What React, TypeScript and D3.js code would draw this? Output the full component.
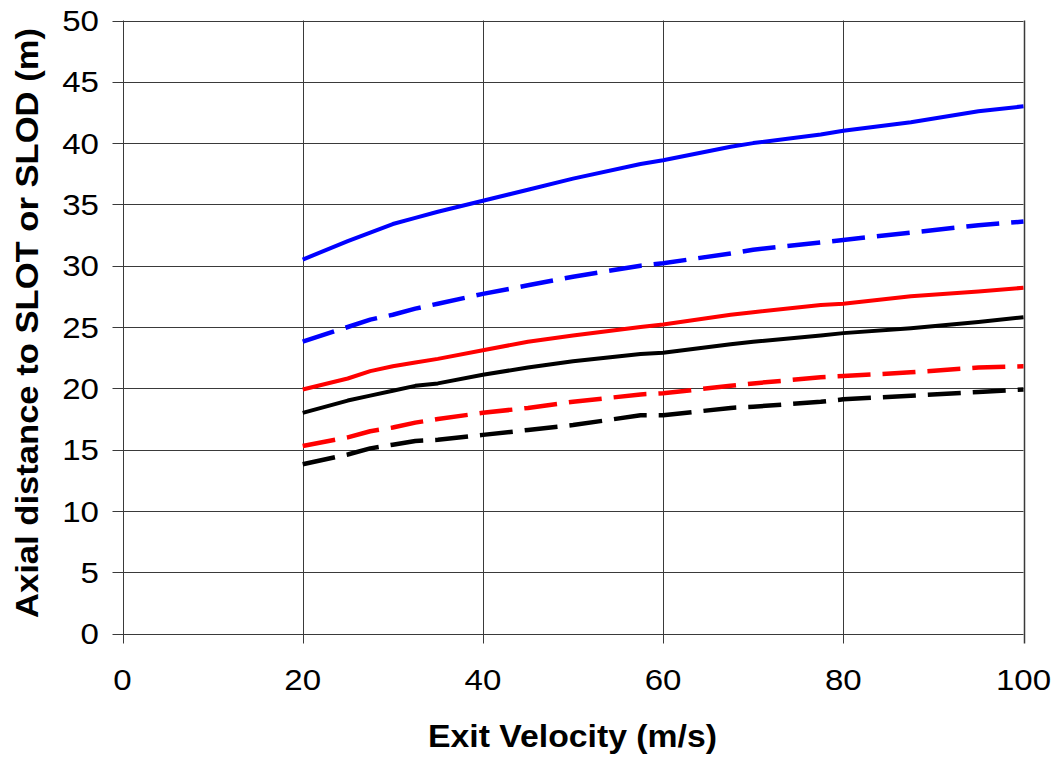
import React from "react";
import * as d3 from "d3";

const xs = [20, 25, 27.5, 30, 32.5, 35, 40, 45, 50, 57.5, 60, 67.5, 70, 77.5, 80, 87.5, 95, 100];
const blueSolid = [30.5, 32.0, 32.7, 33.4, 33.9, 34.4, 35.3, 36.2, 37.1, 38.3, 38.6, 39.7, 40.0, 40.7, 41.0, 41.7, 42.6, 43.0];
const blueDashed = [23.8, 25.0, 25.6, 26.0, 26.5, 26.9, 27.7, 28.4, 29.1, 30.0, 30.2, 31.0, 31.3, 31.9, 32.1, 32.7, 33.3, 33.6];
const redSolid = [19.9, 20.8, 21.4, 21.8, 22.1, 22.4, 23.1, 23.8, 24.3, 25.0, 25.2, 26.0, 26.2, 26.8, 26.9, 27.5, 27.9, 28.2];
const blackSolid = [18.0, 19.0, 19.4, 19.8, 20.2, 20.4, 21.1, 21.7, 22.2, 22.8, 22.9, 23.6, 23.8, 24.3, 24.5, 24.9, 25.4, 25.8];
const redDashed = [15.3, 16.0, 16.5, 16.8, 17.2, 17.5, 18.0, 18.4, 18.9, 19.5, 19.6, 20.2, 20.4, 20.9, 21.0, 21.3, 21.7, 21.8];
const blackDashed = [13.8, 14.6, 15.1, 15.4, 15.7, 15.8, 16.2, 16.6, 17.0, 17.8, 17.8, 18.4, 18.5, 18.9, 19.1, 19.4, 19.7, 19.9];

const xTicks = [0, 20, 40, 60, 80, 100];
const yTicks = [0, 5, 10, 15, 20, 25, 30, 35, 40, 45, 50];

const series = [
  { name: "blueSolid", values: blueSolid, color: "#0000FF", dashed: false },
  { name: "blueDashed", values: blueDashed, color: "#0000FF", dashed: true },
  { name: "redSolid", values: redSolid, color: "#FF0000", dashed: false },
  { name: "blackSolid", values: blackSolid, color: "#000000", dashed: false },
  { name: "redDashed", values: redDashed, color: "#FF0000", dashed: true },
  { name: "blackDashed", values: blackDashed, color: "#000000", dashed: true },
];

export default function App() {
  const W = 1059, H = 761;
  const left = 122.5, right = 1023.5, top = 20.5, bottom = 633.5;
  const x = d3.scaleLinear().domain([0, 100]).range([left, right]);
  const y = d3.scaleLinear().domain([0, 50]).range([bottom, top]);
  const font = "'Liberation Sans', Arial, sans-serif";
  const grid = "#3a3a3a";
  return (
    <svg width={W} height={H} style={{ position: "absolute", left: 0, top: 0, background: "#fff" }} fontFamily={font}>
      {yTicks.map((t) => (
        <g key={"y" + t}>
          <line x1={left - 10} x2={right} y1={Math.round(y(t)) + 0.5} y2={Math.round(y(t)) + 0.5} stroke={grid} strokeWidth={1} />
          <text transform={`translate(99,${y(t)}) scale(1.12,1)`} dy="0.36em" textAnchor="end" fontSize={29.5} fill="#000">{t}</text>
        </g>
      ))}
      {xTicks.map((t) => (
        <g key={"x" + t}>
          <line x1={Math.round(x(t)) + 0.5} x2={Math.round(x(t)) + 0.5} y1={top} y2={bottom + 10} stroke={grid} strokeWidth={t === 100 ? 1.5 : 1} />
          <text transform={`translate(${x(t)},690) scale(1.12,1)`} textAnchor="middle" fontSize={29.5} fill="#000">{t}</text>
        </g>
      ))}
      {series.map((s) => {
        const line = d3.line<number>().x((_, i) => x(xs[i])).y((v) => y(v));
        return (
          <path key={s.name} d={line(s.values) || ""} fill="none" stroke={s.color} strokeWidth={s.dashed ? 4.5 : 4}
            strokeDasharray={s.dashed ? "33,12" : undefined} strokeLinejoin="round" />
        );
      })}
      <text x={572.5} y={747} textAnchor="middle" fontSize={31} fontWeight="bold" fill="#000"
        textLength={289} lengthAdjust="spacingAndGlyphs">Exit Velocity (m/s)</text>
      <text transform={`translate(38,323) rotate(-90)`} textAnchor="middle" fontSize={31} fontWeight="bold" fill="#000"
        textLength={590} lengthAdjust="spacingAndGlyphs">Axial distance to SLOT or SLOD (m)</text>
    </svg>
  );
}
